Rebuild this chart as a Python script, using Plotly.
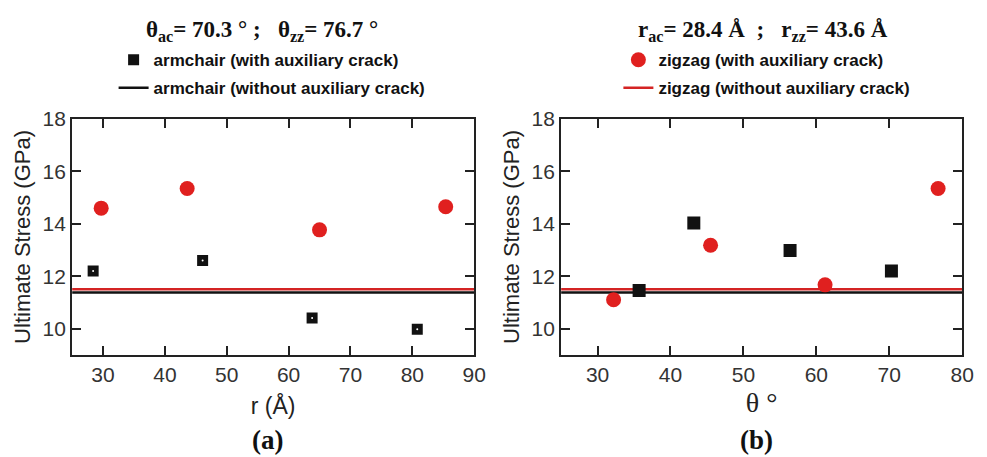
import plotly.graph_objects as go

# Panel (a): ultimate stress versus crack distance r
r_ac = [28.4, 46.1, 63.8, 80.8]
stress_r_ac = [12.2, 12.6, 10.4, 9.97]
r_zz = [29.7, 43.6, 65.0, 85.4]
stress_r_zz = [14.6, 15.35, 13.77, 14.65]

# Panel (b): ultimate stress versus crack angle theta
theta_ac = [35.7, 43.2, 56.4, 70.3]
stress_t_ac = [11.45, 14.03, 12.98, 12.2]
theta_zz = [32.2, 45.5, 61.2, 76.7]
stress_t_zz = [11.1, 13.18, 11.67, 15.35]

# Reference strength without auxiliary crack
base_ac = 11.38
base_zz = 11.5

r_range = [25, 90]
theta_range = [25, 80]
stress_range = [9, 18]

BLACK = "#111111"
RED = "#e0201f"
LINE_RED = "#d42424"
SANS = "Arial, Liberation Sans, sans-serif"
SERIF = "Times New Roman, Liberation Serif, serif"

fig = go.Figure()

# ---- panel (a)
fig.add_trace(go.Scatter(x=r_range, y=[base_zz, base_zz], mode="lines",
                         line=dict(color=LINE_RED, width=2.5), showlegend=False,
                         xaxis="x", yaxis="y"))
fig.add_trace(go.Scatter(x=r_range, y=[base_ac, base_ac], mode="lines",
                         line=dict(color=BLACK, width=2.5),
                         name="<b>armchair (without auxiliary crack)</b>",
                         legend="legend", legendgroup="a2", legendrank=2,
                         xaxis="x", yaxis="y"))
fig.add_trace(go.Scatter(x=r_ac, y=stress_r_ac, mode="markers",
                         marker=dict(symbol="square", size=11, color=BLACK,
                                     line=dict(width=0)),
                         name="<b>armchair (with auxiliary crack)</b>",
                         legend="legend", legendgroup="a1", legendrank=1,
                         xaxis="x", yaxis="y"))
fig.add_trace(go.Scatter(x=r_ac, y=stress_r_ac, mode="markers",
                         marker=dict(symbol="circle", size=2, color="white",
                                     line=dict(width=0)),
                         showlegend=False, hoverinfo="skip", xaxis="x", yaxis="y"))
fig.add_trace(go.Scatter(x=r_zz, y=stress_r_zz, mode="markers",
                         marker=dict(symbol="circle", size=15, color=RED,
                                     line=dict(width=0)),
                         showlegend=False, xaxis="x", yaxis="y"))

# ---- panel (b)
fig.add_trace(go.Scatter(x=theta_range, y=[base_zz, base_zz], mode="lines",
                         line=dict(color=LINE_RED, width=2.5),
                         name="<b>zigzag (without auxiliary crack)</b>",
                         legend="legend2", legendgroup="b2", legendrank=2,
                         xaxis="x2", yaxis="y2"))
fig.add_trace(go.Scatter(x=theta_range, y=[base_ac, base_ac], mode="lines",
                         line=dict(color=BLACK, width=2.5), showlegend=False,
                         xaxis="x2", yaxis="y2"))
fig.add_trace(go.Scatter(x=theta_ac, y=stress_t_ac, mode="markers",
                         marker=dict(symbol="square", size=13, color=BLACK,
                                     line=dict(width=0)),
                         showlegend=False, xaxis="x2", yaxis="y2"))
fig.add_trace(go.Scatter(x=theta_zz, y=stress_t_zz, mode="markers",
                         marker=dict(symbol="circle", size=15, color=RED,
                                     line=dict(width=0)),
                         name="<b>zigzag (with auxiliary crack)</b>",
                         legend="legend2", legendgroup="b1", legendrank=1,
                         xaxis="x2", yaxis="y2"))

axis_common = dict(showline=True, linewidth=2, linecolor="#222", mirror="ticks",
                   ticks="inside", ticklen=9, tickwidth=2, tickcolor="#222",
                   showgrid=False, zeroline=False,
                   tickfont=dict(family=SANS, size=21, color="#333"))

ydom = [105 / 457, 347 / 457]

legend_common = dict(xanchor="left", yanchor="top", bgcolor="rgba(0,0,0,0)",
                     font=dict(family=SANS, size=17, color="#111"),
                     traceorder="grouped", itemwidth=30, tracegroupgap=3)

fig.update_layout(
    width=987, height=457,
    margin=dict(l=0, r=0, t=0, b=0),
    paper_bgcolor="white", plot_bgcolor="white",
    xaxis=dict(axis_common, domain=[73 / 987, 480 / 987], range=r_range, dtick=10,
               tick0=30, anchor="y",
               title=dict(text="r (Å)", font=dict(family=SANS, size=23, color="#222"),
                          standoff=13)),
    yaxis=dict(axis_common, domain=ydom, range=stress_range, dtick=2, tick0=10,
               anchor="x",
               title=dict(text="Ultimate Stress (GPa)",
                          font=dict(family=SANS, size=22, color="#222"), standoff=6)),
    xaxis2=dict(axis_common, domain=[568 / 987, 974 / 987], range=theta_range, dtick=10,
                tick0=30, anchor="y2",
                title=dict(text="θ °", font=dict(family=SERIF, size=28, color="#222"),
                           standoff=7)),
    yaxis2=dict(axis_common, domain=ydom, range=stress_range, dtick=2, tick0=10,
                anchor="x2",
                title=dict(text="Ultimate Stress (GPa)",
                           font=dict(family=SANS, size=22, color="#222"), standoff=6)),
    legend=dict(legend_common, x=115 / 987, y=1 - 31 / 457),
    legend2=dict(legend_common, x=626 / 987, y=1 - 31 / 457),
    annotations=[
        dict(text="<b>θ<sub>ac</sub>= 70.3 ° ;   θ<sub>zz</sub>= 76.7 °</b>",
             x=265 / 987, y=1 - 19 / 457, xref="paper", yref="paper",
             xanchor="center", yanchor="middle", showarrow=False,
             font=dict(family=SERIF, size=23, color="#111")),
        dict(text="<b>r<sub>ac</sub>= 28.4 Å  ;   r<sub>zz</sub>= 43.6 Å</b>",
             x=772 / 987, y=1 - 19 / 457, xref="paper", yref="paper",
             xanchor="center", yanchor="middle", showarrow=False,
             font=dict(family=SERIF, size=23, color="#111")),
        dict(text="<b>(a)</b>", x=271 / 987, y=1 - 440 / 457, xref="paper",
             yref="paper", xanchor="center", yanchor="middle", showarrow=False,
             font=dict(family=SERIF, size=27, color="#111")),
        dict(text="<b>(b)</b>", x=766 / 987, y=1 - 440 / 457, xref="paper",
             yref="paper", xanchor="center", yanchor="middle", showarrow=False,
             font=dict(family=SERIF, size=27, color="#111")),
    ],
)

fig.write_html("out.html")
